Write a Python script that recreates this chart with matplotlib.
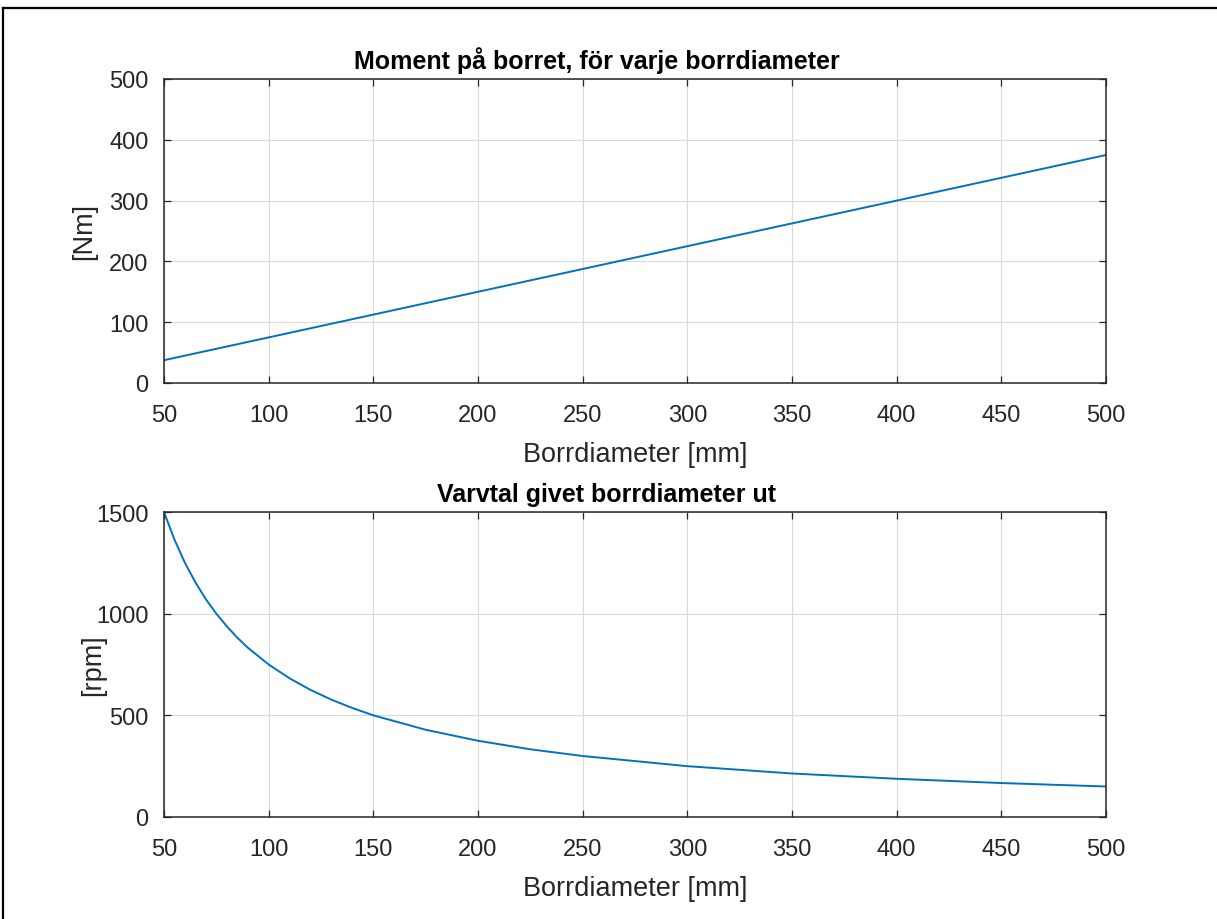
import numpy as np
import matplotlib
matplotlib.use('Agg')
import matplotlib.pyplot as plt
from matplotlib.lines import Line2D

# data
diameter_moment = [50, 500]
moment_nm = [37.5, 375]

diameter_rpm = [50, 55, 60, 65, 70, 75, 80, 85, 90, 100, 110, 120, 130, 140, 150,
                175, 200, 225, 250, 300, 350, 400, 450, 500]
varvtal_rpm = [1500, 1364, 1250, 1154, 1071, 1000, 938, 882, 833, 750, 682, 625, 577, 536, 500,
               429, 375, 333, 300, 250, 214, 188, 167, 150]

x_ticks = [50, 100, 150, 200, 250, 300, 350, 400, 450, 500]
y_ticks_top = [0, 100, 200, 300, 400, 500]
y_ticks_bottom = [0, 500, 1000, 1500]

plt.rcParams['font.family'] = ['Liberation Sans', 'DejaVu Sans']

W, H = 1217, 920
fig = plt.figure(figsize=(W / 100, H / 100), dpi=100)

dark = '#262626'
blue = '#0072BD'
AXW = 1106 - 164


def style(ax, yticks, ylim):
    ax.set_xlim(50, 500)
    ax.set_ylim(*ylim)
    ax.set_xticks(x_ticks)
    ax.set_yticks(yticks)
    ax.grid(True, color='#dadada', linewidth=0.8)
    ax.set_axisbelow(True)
    ax.tick_params(direction='in', length=5, width=0.9, top=True, right=True,
                   labelsize=17, colors=dark)
    ax.tick_params(axis='x', pad=15)
    ax.tick_params(axis='y', pad=11)
    for s in ax.spines.values():
        s.set_color(dark)
        s.set_linewidth(1.1)


# top subplot
ax1 = fig.add_axes([164 / W, 1 - 384 / H, AXW / W, (384 - 80) / H])
ax1.plot(diameter_moment, moment_nm, color=blue, linewidth=1.4)
style(ax1, y_ticks_top, (0, 500))
ax1.set_title('Moment på borret, för varje borrdiameter', fontsize=18,
              fontweight='bold', pad=8, color='black', x=0.46)
ax1.set_xlabel('Borrdiameter [mm]', fontsize=19.5, color=dark, labelpad=11)
ax1.set_ylabel('[Nm]', fontsize=19.5, color=dark)
ax1.yaxis.set_label_coords(-(164 - 97) / AXW, 0.5)

# bottom subplot
ax2 = fig.add_axes([164 / W, 1 - 818 / H, AXW / W, (818 - 513) / H])
ax2.plot(diameter_rpm, varvtal_rpm, color=blue, linewidth=1.4)
style(ax2, y_ticks_bottom, (0, 1500))
ax2.set_title('Varvtal givet borrdiameter ut', fontsize=18,
              fontweight='bold', pad=8, color='black', x=0.47)
ax2.set_xlabel('Borrdiameter [mm]', fontsize=19.5, color=dark, labelpad=11)
ax2.set_ylabel('[rpm]', fontsize=19.5, color=dark)
ax2.yaxis.set_label_coords(-(164 - 106) / AXW, 0.5)

# outer frame (only top and left edges visible)
fig.add_artist(Line2D([3 / W, 1], [1 - 9 / H, 1 - 9 / H], color='black', linewidth=1.6,
                      transform=fig.transFigure))
fig.add_artist(Line2D([3 / W, 3 / W], [0, 1 - 9 / H], color='black', linewidth=1.6,
                      transform=fig.transFigure))

fig.savefig('out.png', dpi=100, facecolor='white')
